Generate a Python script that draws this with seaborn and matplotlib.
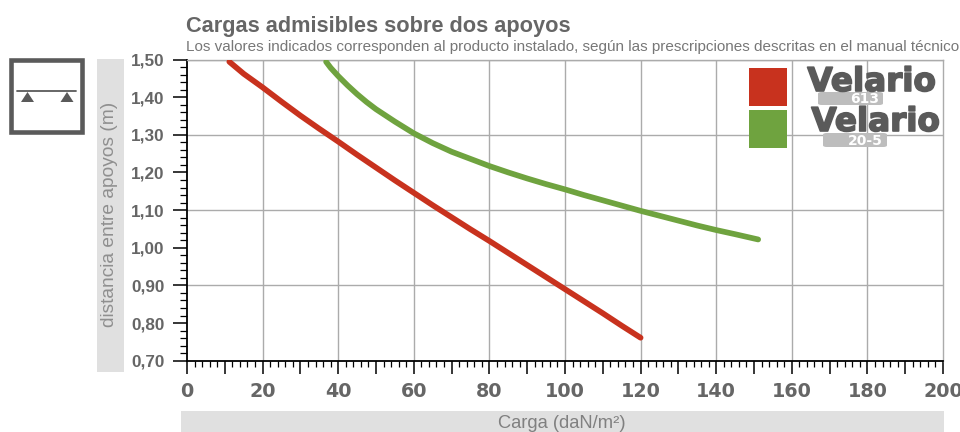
# plot.py
# Cargas admisibles sobre dos apoyos - Velario 613 / 20-5

import pandas as pd
import matplotlib
matplotlib.use("Agg")
import matplotlib.pyplot as plt
import matplotlib.patheffects as pe
from matplotlib.patches import Rectangle, FancyBboxPatch, Polygon
from matplotlib.ticker import MultipleLocator, FuncFormatter
import seaborn as sns

# ------------ Data ------------
carga_613 = [11.2, 15, 20, 25, 30, 35, 40, 45, 50, 55, 60, 65, 70, 75, 80, 85, 90, 95, 100, 105, 110, 115, 120]
dist_613 = [1.494, 1.462, 1.426, 1.388, 1.351, 1.316, 1.282, 1.247, 1.213, 1.179, 1.146, 1.113, 1.081, 1.049,
            1.018, 0.986, 0.954, 0.922, 0.890, 0.858, 0.826, 0.793, 0.761]

carga_205 = [36.8, 38, 40, 42.5, 45, 47.5, 50, 55, 60, 65, 70, 75, 80, 85, 90, 95, 100, 105, 110, 115, 120,
             125, 130, 135, 140, 145, 151.1]
dist_205 = [1.494, 1.478, 1.456, 1.431, 1.408, 1.387, 1.368, 1.335, 1.304, 1.278, 1.255, 1.236, 1.217, 1.2,
            1.184, 1.169, 1.155, 1.14, 1.126, 1.112, 1.098, 1.085, 1.072, 1.059, 1.047, 1.036, 1.022]

series_names = ["613", "20-5"]
x_ticks = [0, 20, 40, 60, 80, 100, 120, 140, 160, 180, 200]
y_ticks = [0.70, 0.80, 0.90, 1.00, 1.10, 1.20, 1.30, 1.40, 1.50]

RED = "#c8321e"
GREEN = "#6fa33f"
GREY = "#666666"
BAND = "#e0e0e0"
GRID = "#ababab"
W, H = 960, 432

df = pd.concat([
    pd.DataFrame({"carga": carga_613, "dist": dist_613, "serie": series_names[0]}),
    pd.DataFrame({"carga": carga_205, "dist": dist_205, "serie": series_names[1]}),
])

# ------------ Figure ------------
sns.set_theme(style="white")
plt.rcParams["font.family"] = ["Liberation Sans", "DejaVu Sans"]
fig = plt.figure(figsize=(W / 100, H / 100), dpi=100)


def fx(px):
    return px / W


def fy(py):
    return 1 - py / H


def px_rect(x0, y0, x1, y1, **kw):
    fig.add_artist(Rectangle((fx(x0), fy(y1)), fx(x1 - x0), (y1 - y0) / H,
                             transform=fig.transFigure, **kw))


# grey label bands
px_rect(97, 59, 124, 372, color=BAND, lw=0, zorder=0)
px_rect(181, 410.5, 944, 432, color=BAND, lw=0, zorder=0)

ax = fig.add_axes([fx(187), fy(360.7), fx(943 - 187), (360.7 - 59.5) / H])
ax.patch.set_alpha(0)

sns.lineplot(data=df, x="carga", y="dist", hue="serie", palette=[RED, GREEN],
             linewidth=4.1, legend=False, ax=ax, sort=False, estimator=None,
             zorder=3, solid_capstyle="round", solid_joinstyle="round")

ax.set_xlim(0, 200)
ax.set_ylim(0.70, 1.50)
ax.set_xlabel("")
ax.set_ylabel("")

# ticks: every 10 / 2 in x, every 0.1 / 0.02 in y
ax.xaxis.set_major_locator(MultipleLocator(10))
ax.xaxis.set_minor_locator(MultipleLocator(2))
ax.yaxis.set_major_locator(MultipleLocator(0.1))
ax.yaxis.set_minor_locator(MultipleLocator(0.02))
ax.xaxis.set_major_formatter(FuncFormatter(lambda v, p: f"{v:.0f}" if round(v) in x_ticks else ""))
ax.yaxis.set_major_formatter(FuncFormatter(lambda v, p: f"{v:.2f}".replace(".", ",")))

# grid lines: every 20 in x, every 0.2 in y
for v in x_ticks[1:-1]:
    ax.axvline(v, color=GRID, lw=1.0, zorder=1)
for v in y_ticks[2::2]:
    ax.axhline(v, color=GRID, lw=1.0, zorder=1)

ax.tick_params(axis="x", which="major", length=9.5, width=1.1, color="black", pad=6,
               labelsize=13.8, labelcolor=GREY, direction="out", bottom=True)
ax.tick_params(axis="x", which="minor", length=4.5, width=0.9, color="black", bottom=True)
ax.tick_params(axis="y", which="major", length=10, width=1.1, color="black", pad=6,
               labelsize=12.3, labelcolor=GREY, direction="out", left=True)
ax.tick_params(axis="y", which="minor", length=5, width=0.9, color="black", left=True)
for lab in ax.get_xticklabels():
    lab.set_fontweight("bold")
    lab.set_family("DejaVu Sans")
for lab in ax.get_yticklabels():
    lab.set_fontweight("bold")

ax.spines["left"].set_color("black")
ax.spines["left"].set_linewidth(1.3)
ax.spines["bottom"].set_color("black")
ax.spines["bottom"].set_linewidth(1.3)
ax.spines["top"].set_color(GRID)
ax.spines["top"].set_linewidth(1.0)
ax.spines["right"].set_color(GRID)
ax.spines["right"].set_linewidth(1.0)

# ------------ Titles and axis labels ------------
fig.text(fx(186), fy(32), "Cargas admisibles sobre dos apoyos", fontsize=15.7, fontweight="bold",
         color=GREY, va="baseline", ha="left")
fig.text(fx(186), fy(51), "Los valores indicados corresponden al producto instalado, según las prescripciones descritas en el manual técnico",
         fontsize=11, color="#777777", va="baseline", ha="left")
fig.text(fx(110), fy(214), "distancia entre apoyos (m)", rotation=90, fontsize=13.8, color="#8f8f8f",
         va="center", ha="center")
fig.text(fx(562), fy(424), "Carga (daN/m²)", fontsize=13.2, color="#808080", va="center", ha="center")

# ------------ Legend swatches and logos ------------
px_rect(749, 68, 787, 106, color=RED, lw=0, zorder=5)
px_rect(749, 110, 787, 148, color=GREEN, lw=0, zorder=5)


def logo(x_right, y_base, x0_tag, x1_tag, y0_tag, y1_tag, tag):
    fig.add_artist(FancyBboxPatch((fx(x0_tag), fy(y1_tag)), fx(x1_tag - x0_tag), (y1_tag - y0_tag) / H,
                                  boxstyle="round,pad=0,rounding_size=0.004", transform=fig.transFigure,
                                  color="#bdbdbd", lw=0, zorder=5))
    fig.text(fx(x1_tag - 4), fy(y1_tag - 2), tag, fontsize=10, fontweight="bold",
             color="white", va="baseline", ha="right", zorder=6, family="DejaVu Sans")
    fig.text(fx(x_right), fy(y_base), "Velario", fontsize=23.5, fontweight="bold", color="#5a5a5a",
             va="baseline", ha="right", zorder=7, family="DejaVu Sans",
             path_effects=[pe.withStroke(linewidth=1.2, foreground="#5a5a5a")])


logo(936, 91, 818, 883, 92, 105, "613")
logo(940, 131, 823, 887, 133, 147, "20-5")

# ------------ Support icon ------------
px_rect(10.5, 60.5, 82, 132, fill=False, ec="#5a5a5a", lw=3.3, zorder=5)
fig.add_artist(plt.Line2D([fx(17), fx(76)], [fy(90.5), fy(90.5)], transform=fig.transFigure,
                          color="#5a5a5a", lw=1.3))
for cx in (27.5, 67):
    fig.add_artist(Polygon([(fx(cx), fy(92)), (fx(cx - 6.5), fy(102)), (fx(cx + 6.5), fy(102))],
                           closed=True, transform=fig.transFigure, color="#5a5a5a", lw=0))

fig.savefig("out.png", dpi=100)
